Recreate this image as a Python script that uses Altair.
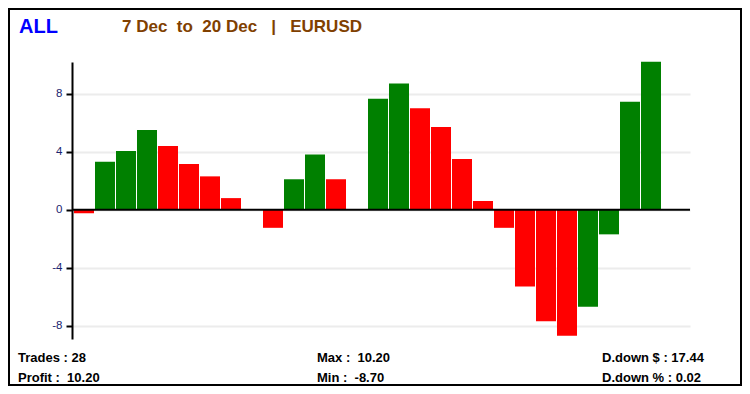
import altair as alt
import pandas as pd

# ---- data ----
trade_no = list(range(28))
profit = [-0.25, 3.3, 4.05, 5.5, 4.4, 3.15, 2.3, 0.8, 0.0, -1.25,
          2.1, 3.8, 2.1, 0.0, 7.65, 8.7, 7.0, 5.7, 3.5, 0.6,
          -1.25, -5.3, -7.7, -8.7, -6.7, -1.7, 7.45, 10.2]
direction = ["down", "up", "up", "up", "down", "down", "down", "down", "down", "down",
             "up", "up", "down", "down", "up", "up", "down", "down", "down", "down",
             "down", "down", "down", "down", "up", "up", "up", "up"]
y_ticks = [-8, -4, 0, 4, 8]

title_main = "ALL"
title_sub = "7\u00a0Dec\u00a0\u00a0to\u00a0\u00a020\u00a0Dec\u00a0\u00a0\u00a0|\u00a0\u00a0\u00a0EURUSD"
stats_left = ["Trades\u00a0:\u00a028", "Profit\u00a0:\u00a0\u00a010.20"]
stats_mid = ["Max\u00a0:\u00a0\u00a010.20", "Min\u00a0:\u00a0\u00a0-8.70"]
stats_right = ["D.down\u00a0$\u00a0:\u00a017.44", "D.down\u00a0%\u00a0:\u00a00.02"]

df = pd.DataFrame({"idx": trade_no, "value": profit, "dir": direction})

W, H = 618, 277

y_axis = alt.Axis(values=y_ticks, title=None, grid=True, gridColor="#ececec", gridWidth=2,
                  domainColor="black", domainWidth=2, tickColor="black", tickWidth=2,
                  tickSize=6, labelColor="#1a2470", labelFont="Liberation Sans",
                  labelFontSize=11.5, labelPadding=4, labelExpr="'' + datum.value")
y_scale = alt.Scale(domain=[-8.92, 10.19], nice=False, zero=False, padding=0)

bars = alt.Chart(df).mark_bar(size=20).encode(
    x=alt.X("idx:Q", scale=alt.Scale(domain=[-0.5714, 28.857], nice=False, zero=False, padding=0),
            axis=None),
    y=alt.Y("value:Q", scale=y_scale, axis=y_axis),
    color=alt.Color("dir:N", scale=alt.Scale(domain=["up", "down"], range=["#008000", "#ff0000"]),
                    legend=None),
)

zero_line = alt.Chart(pd.DataFrame({"value": [0]})).mark_rule(color="black", strokeWidth=2).encode(
    y=alt.Y("value:Q", scale=y_scale, axis=y_axis)
)


def label(text, x, y, size, color="black", font="Liberation Sans", weight="bold"):
    return alt.Chart(pd.DataFrame({"t": [text]})).mark_text(
        align="left", baseline="alphabetic", fontSize=size, font=font, fontWeight=weight, color=color
    ).encode(x=alt.value(x), y=alt.value(y), text="t:N")


texts = [
    label(title_main, -53, -29, 20, color="#0000ff"),
    label(title_sub, 50, -30, 17, color="#804000"),
    label(stats_left[0], -54, 300, 13),
    label(stats_left[1], -54, 320, 13),
    label(stats_mid[0], 245, 300, 13),
    label(stats_mid[1], 245, 320, 13),
    label(stats_right[0], 530, 300, 13),
    label(stats_right[1], 530, 320, 13),
]

border = alt.Chart(pd.DataFrame({"b": [0]})).mark_rect(
    fillOpacity=0, stroke="black", strokeWidth=2
).encode(x=alt.value(-63), x2=alt.value(669), y=alt.value(-53), y2=alt.value(323))

chart = alt.layer(bars, zero_line, *texts, border).properties(
    width=W, height=H,
    padding={"left": 64, "top": 54, "right": 52, "bottom": 47},
    autosize=alt.AutoSizeParams(type="none"),
    background="white",
).configure_view(stroke=None)

chart.save("out.html", embed_options={"renderer": "svg", "actions": False})
